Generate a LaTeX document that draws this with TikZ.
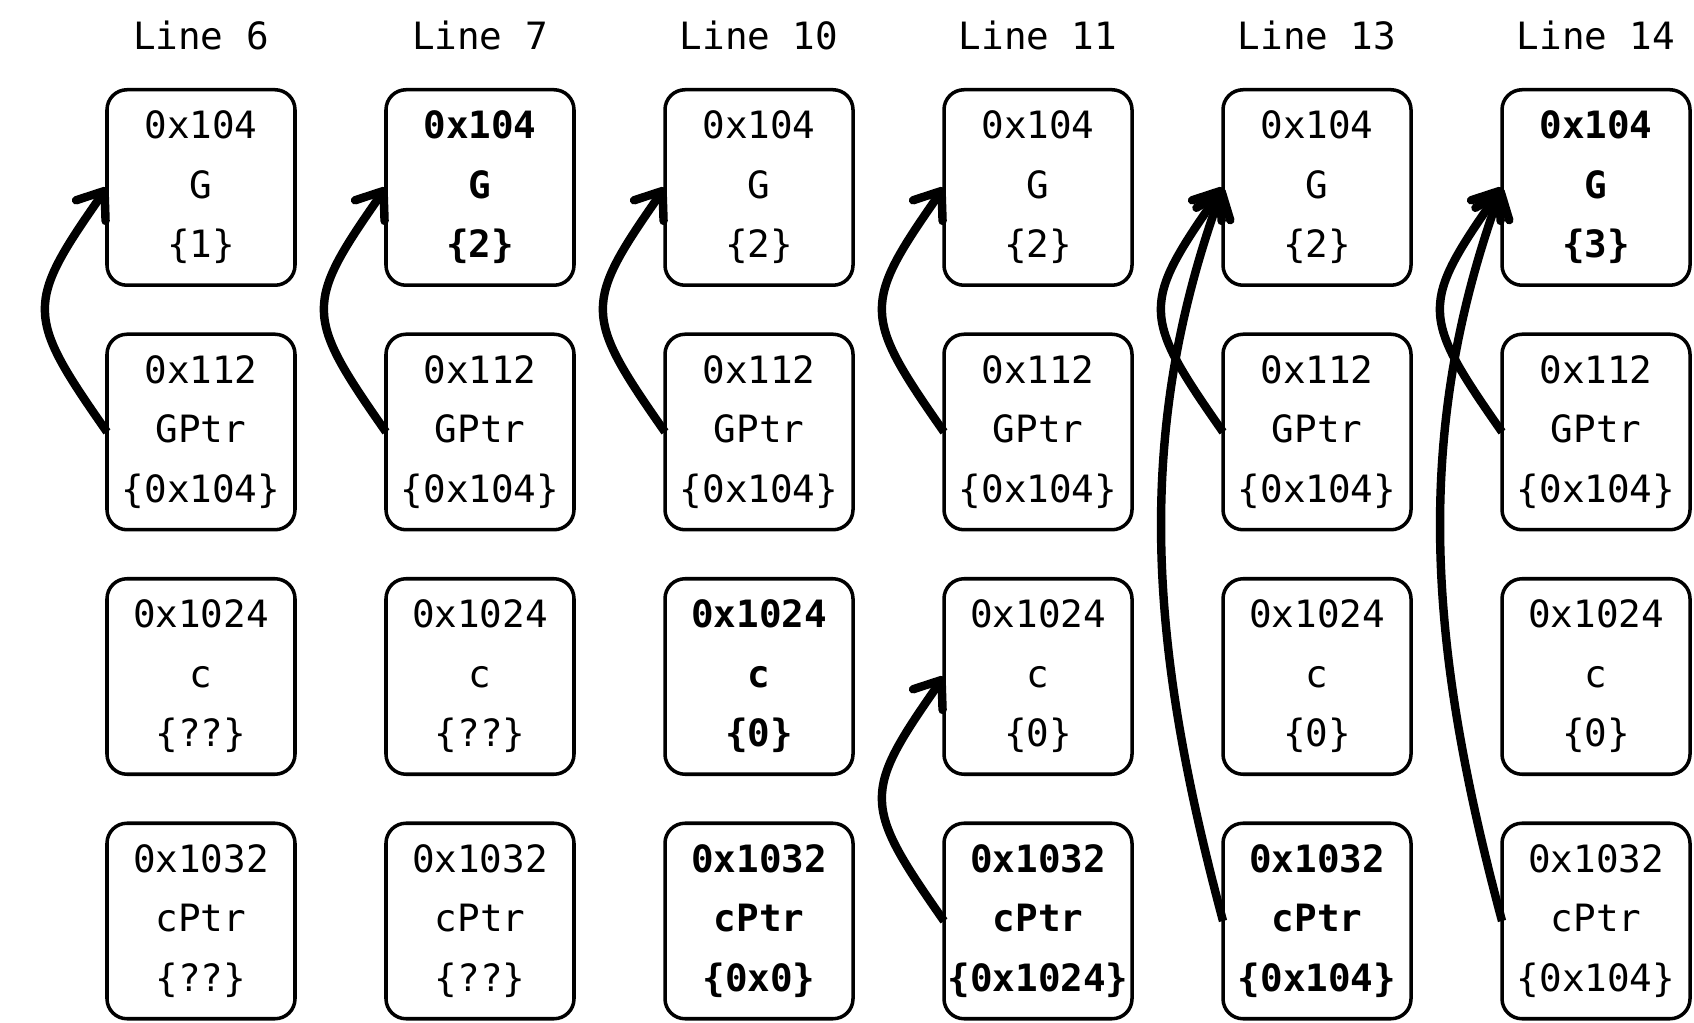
\documentclass[tikz,border=0pt]{standalone}
\usepackage{fontspec}
\setmonofont{DejaVu Sans Mono}
\usetikzlibrary{arrows.meta, positioning}

\begin{document}
\begin{tikzpicture}[
  cell/.style  = {draw, line width=1pt, rounded corners=0.2cm, minimum width=1.88cm,
                  minimum height=1.955cm, align=center, inner sep=0pt, outer sep=0pt,
                  font=\ttfamily\fontsize{10.7}{16.9}\selectfont},
  hot/.style   = {cell, font=\ttfamily\bfseries\fontsize{10.7}{16.9}\selectfont},
  title/.style = {inner sep=0pt, font=\ttfamily\fontsize{10.7}{12}\selectfont},
  ptr/.style   = {line width=2.4pt, -{Straight Barb[length=2.4mm, width=3.6mm, round]}},
  node distance=0.49cm and 0.91cm
]
  \useasboundingbox (0,0) rectangle (16.94,-10.23);

  % top row: G
  \node[cell] (g1) at (2.01,-1.875) {0x104\\G\\\{1\}};
  \node[hot,  right=of g1] (g2) {0x104\\G\\\{2\}};
  \node[cell, right=of g2] (g3) {0x104\\G\\\{2\}};
  \node[cell, right=of g3] (g4) {0x104\\G\\\{2\}};
  \node[cell, right=of g4] (g5) {0x104\\G\\\{2\}};
  \node[hot,  right=of g5] (g6) {0x104\\G\\\{3\}};

  % step titles
  \node[title, above=0.39cm of g1] (t1) {Line 6};
  \node[title, above=0.39cm of g2] (t2) {Line 7};
  \node[title, above=0.39cm of g3] (t3) {Line 10};
  \node[title, above=0.39cm of g4] (t4) {Line 11};
  \node[title, above=0.39cm of g5] (t5) {Line 13};
  \node[title, above=0.39cm of g6] (t6) {Line 14};

  % GPtr
  \node[cell, below=of g1] (gptr1) {0x112\\GPtr\\\{0x104\}};
  \node[cell, below=of g2] (gptr2) {0x112\\GPtr\\\{0x104\}};
  \node[cell, below=of g3] (gptr3) {0x112\\GPtr\\\{0x104\}};
  \node[cell, below=of g4] (gptr4) {0x112\\GPtr\\\{0x104\}};
  \node[cell, below=of g5] (gptr5) {0x112\\GPtr\\\{0x104\}};
  \node[cell, below=of g6] (gptr6) {0x112\\GPtr\\\{0x104\}};

  % c
  \node[cell, below=of gptr1] (c1) {0x1024\\c\\\{??\}};
  \node[cell, below=of gptr2] (c2) {0x1024\\c\\\{??\}};
  \node[hot,  below=of gptr3] (c3) {0x1024\\c\\\{0\}};
  \node[cell, below=of gptr4] (c4) {0x1024\\c\\\{0\}};
  \node[cell, below=of gptr5] (c5) {0x1024\\c\\\{0\}};
  \node[cell, below=of gptr6] (c6) {0x1024\\c\\\{0\}};

  % cPtr
  \node[cell, below=of c1] (cptr1) {0x1032\\cPtr\\\{??\}};
  \node[cell, below=of c2] (cptr2) {0x1032\\cPtr\\\{??\}};
  \node[hot,  below=of c3] (cptr3) {0x1032\\cPtr\\\{0x0\}};
  \node[hot,  below=of c4] (cptr4) {0x1032\\cPtr\\\{0x1024\}};
  \node[hot,  below=of c5] (cptr5) {0x1032\\cPtr\\\{0x104\}};
  \node[cell, below=of c6] (cptr6) {0x1032\\cPtr\\\{0x104\}};

  % pointers
  \foreach \i in {1,...,6}
    \draw[ptr] (gptr\i.west) to[out=125, in=235, looseness=1.5] (g\i.west);
  \draw[ptr] (cptr4.west) to[out=125, in=235, looseness=1.5] (c4.west);
  \draw[ptr] (cptr5.west) to[out=105, in=250, looseness=0.95] (g5.west);
  \draw[ptr] (cptr6.west) to[out=105, in=250, looseness=0.95] (g6.west);
\end{tikzpicture}
\end{document}
